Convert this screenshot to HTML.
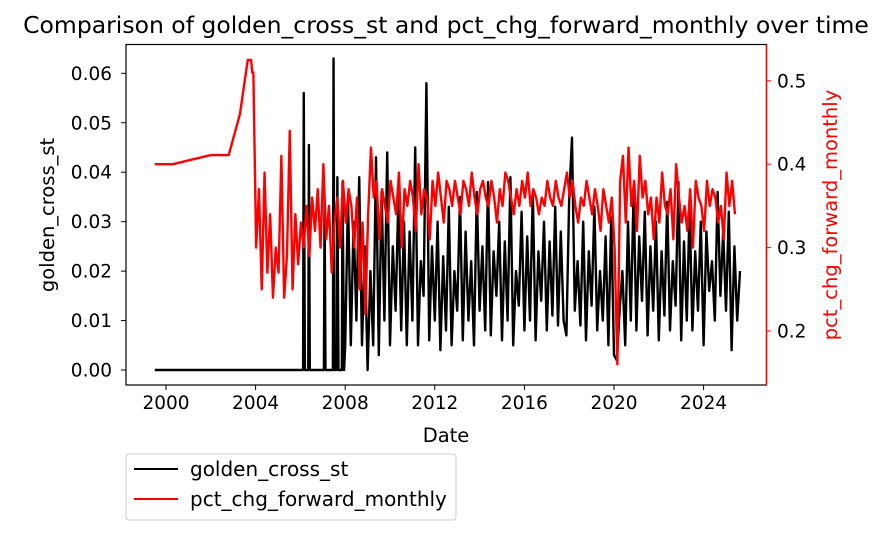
<!DOCTYPE html>
<html><head><meta charset="utf-8"><style>
body{margin:0;background:#fff;width:892px;height:534px;overflow:hidden;font-family:"DejaVu Sans","Liberation Sans",sans-serif}
</style></head><body>
<svg width="892" height="534" xmlns="http://www.w3.org/2000/svg" id="svg" font-family="DejaVu Sans, Liberation Sans, sans-serif">
<text x="446" y="33" text-anchor="middle" font-size="23.5">Comparison of golden_cross_st and pct_chg_forward_monthly over time</text>
<g id="plot"></g>
<rect x="126" y="44.5" width="640.5" height="340.5" fill="none" stroke="#000" stroke-width="1.2"/>
<line x1="766.5" y1="44.5" x2="766.5" y2="385" stroke="red" stroke-width="1.5"/>
<g id="axes" font-size="18.5"></g>
<text x="446" y="442" text-anchor="middle" font-size="19.5">Date</text>
<text transform="translate(54,215) rotate(-90)" text-anchor="middle" font-size="19.5">golden_cross_st</text>
<text transform="translate(837,215) rotate(-90)" text-anchor="middle" font-size="19.5" fill="red">pct_chg_forward_monthly</text>
<g>
<rect x="126" y="454" width="330" height="66" rx="3" fill="#fff" stroke="#ccc"/>
<line x1="134" y1="469" x2="178" y2="469" stroke="#000" stroke-width="2"/>
<text x="190" y="476" font-size="20">golden_cross_st</text>
<line x1="134" y1="499" x2="178" y2="499" stroke="red" stroke-width="2"/>
<text x="190" y="506" font-size="20">pct_chg_forward_monthly</text>
</g>
</svg>
<script>
const xTicks=[2000,2004,2008,2012,2016,2020,2024];
const leftTicks=[0,0.01,0.02,0.03,0.04,0.05,0.06];
const leftTickLabels=["0.00","0.01","0.02","0.03","0.04","0.05","0.06"];
const rightTicks=[0.2,0.3,0.4,0.5];
const rightTickLabels=["0.2","0.3","0.4","0.5"];
const goldenEarlyDates=[1999.5,2006.12,2006.15,2006.2,2006.35,2006.38,2006.42,2007.05,2007.08,2007.12,2007.45,2007.48,2007.52,2007.62,2007.65,2007.7,2007.85,2007.88,2007.95];
const goldenEarlyValues=[0,0,0.056,0,0,0.0455,0,0,0.034,0,0,0.063,0,0,0.039,0,0,0.038,0];
const goldenStart=2008.0, goldenStep=0.125;
const goldenValues=[0.5,3.5,0.5,3.0,1.0,3.9,0.5,2.5,0,2.0,0.5,4.3,
0.3,3.6,1.0,4.4,0.5,2.5,1.2,3.5,0.8,3.0,0.5,2.8,
1.0,4.5,0.5,2.2,1.5,5.8,0.6,2.5,1.0,3.0,0.4,2.3,
0.8,3.3,0.5,2.0,1.2,3.5,0.6,2.8,1.0,2.2,0.5,3.6,
1.2,2.5,0.8,3.8,0.7,2.4,1.5,3.0,0.6,2.6,1.0,3.9,
0.5,2.0,1.3,3.2,0.8,2.7,1.0,3.6,0.6,2.4,1.4,3.0,
0.8,2.6,1.1,3.3,0.9,2.8,1.0,0.7,3.5,4.7,1.2,2.2,
0.9,3.0,0.6,2.4,1.3,3.3,0.8,2.0,1.0,2.7,0.5,3.1,
0.3,0.2,1.2,2.0,0.5,3.0,1.0,3.6,0.8,2.7,1.4,3.2,
0.7,2.5,1.2,3.0,0.6,2.4,1.1,3.4,0.8,2.2,1.3,3.8,
0.6,2.6,1.0,3.3,0.8,2.4,1.2,3.0,0.5,2.8,1.6,2.2,
1.0,3.6,1.5,2.8,1.2,3.2,0.4,2.5,1.0,2.0];
const pctEarlyDates=[1999.5,2000.3,2002.0,2002.8,2003.3,2003.65,2003.8,2003.85];
const pctEarlyValues=[0.40,0.40,0.411,0.411,0.46,0.525,0.525,0.51];
const pctStart=2003.9, pctStep=0.125;
const pctValues=[0.51,0.30,0.37,0.25,0.39,0.27,0.34,0.24,0.30,0.27,0.41,0.24,
0.29,0.44,0.25,0.34,0.28,0.33,0.30,0.35,0.29,0.36,0.32,0.37,
0.30,0.40,0.31,0.35,0.27,0.33,0.36,0.30,0.38,0.33,0.37,0.35,
0.30,0.36,0.25,0.33,0.22,0.34,0.42,0.36,0.38,0.31,0.37,0.35,
0.33,0.38,0.36,0.34,0.39,0.30,0.37,0.35,0.38,0.36,0.32,0.40,
0.34,0.37,0.36,0.31,0.38,0.35,0.39,0.36,0.33,0.38,0.37,0.35,
0.38,0.36,0.34,0.38,0.37,0.35,0.39,0.36,0.34,0.37,0.38,0.36,
0.35,0.38,0.36,0.33,0.37,0.35,0.39,0.38,0.36,0.34,0.37,0.35,
0.38,0.36,0.39,0.35,0.37,0.36,0.34,0.36,0.35,0.38,0.36,0.35,
0.38,0.36,0.35,0.37,0.39,0.36,0.38,0.35,0.33,0.36,0.35,0.38,
0.36,0.34,0.37,0.35,0.32,0.37,0.35,0.33,0.36,0.30,0.16,0.38,
0.41,0.33,0.42,0.35,0.38,0.32,0.41,0.36,0.38,0.34,0.36,0.31,
0.36,0.33,0.39,0.35,0.34,0.37,0.31,0.40,0.36,0.33,0.35,0.32,
0.37,0.30,0.38,0.36,0.35,0.32,0.38,0.35,0.37,0.36,0.33,0.35,
0.31,0.39,0.35,0.38,0.34];
const NS="http://www.w3.org/2000/svg";
const X=d=>166+(d-2000)*22.4;
const YL=v=>370-v*4945;
const YR=v=>331-(v-0.2)*834;
function mk(tag,attrs,parent){const e=document.createElementNS(NS,tag);for(const k in attrs)e.setAttribute(k,attrs[k]);parent.appendChild(e);return e;}
const plot=document.getElementById('plot'), axes=document.getElementById('axes');
let gp=goldenEarlyDates.map((d,i)=>[X(d),YL(goldenEarlyValues[i])]);
goldenValues.forEach((v,i)=>gp.push([X(goldenStart+i*goldenStep),YL(v/100)]));
const gl=mk('polyline',{points:gp.map(p=>p.join(',')).join(' '),fill:'none',stroke:'#000','stroke-width':2.4,'stroke-linejoin':'round'},plot);


let rp=pctEarlyDates.map((d,i)=>[X(d),YR(pctEarlyValues[i])]);
pctValues.forEach((v,i)=>rp.push([X(pctStart+i*pctStep),YR(v)]));
const rl=mk('polyline',{points:rp.map(p=>p.join(',')).join(' '),fill:'none',stroke:'red','stroke-width':2.4,'stroke-linejoin':'round'},plot);


xTicks.forEach(t=>{const x=X(t);
mk('line',{x1:x,y1:385,x2:x,y2:390,stroke:'#000'},axes);
const tx=mk('text',{x:x,y:409,'text-anchor':'middle'},axes);tx.textContent=t;

});
leftTicks.forEach((t,i)=>{const y=YL(t);
mk('line',{x1:121,y1:y,x2:126,y2:y,stroke:'#000'},axes);
const tx=mk('text',{x:112,y:y+6.5,'text-anchor':'end'},axes);tx.textContent=leftTickLabels[i];

});
rightTicks.forEach((t,i)=>{const y=YR(t);
mk('line',{x1:766,y1:y,x2:771,y2:y,stroke:'red'},axes);
const tx=mk('text',{x:777,y:y+6.5},axes);tx.textContent=rightTickLabels[i];

});
</script>
</body></html>
